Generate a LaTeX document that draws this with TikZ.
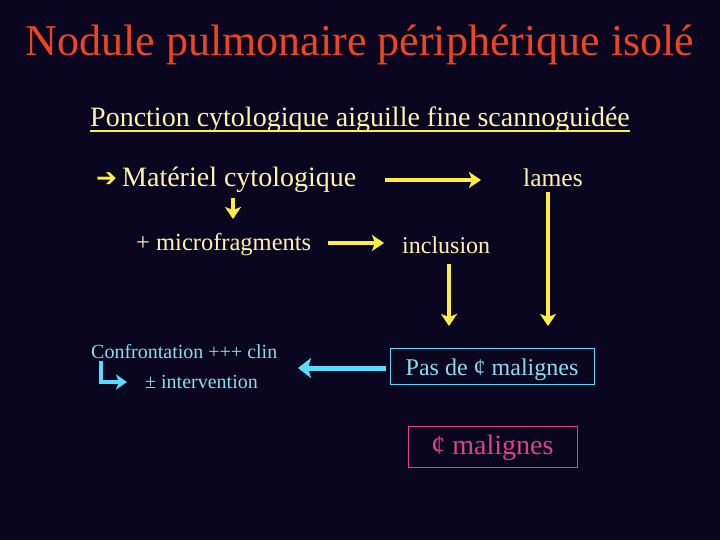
\documentclass[tikz,border=0pt]{standalone}
\usepackage{fontspec}
\setmainfont{Liberation Serif}
\newfontfamily\symfont{DejaVu Sans}
\usetikzlibrary{arrows.meta}
\definecolor{bg}{HTML}{0A0620}
\definecolor{titlec}{HTML}{F04420}
\definecolor{yeltxt}{HTML}{FFF2B0}
\definecolor{ylw}{HTML}{FFEE40}
\definecolor{cyantxt}{HTML}{88DDEE}
\definecolor{cyanar}{HTML}{55DDFF}
\definecolor{pinkc}{HTML}{E04090}
\tikzset{
  yarrow/.style={draw=ylw, line width=4pt, -{Stealth[length=12pt,width=16pt,inset=3pt]}},
  carrow/.style={draw=cyanar, line width=5pt, -{Stealth[length=13pt,width=20pt,inset=3pt]}},
  ytext/.style={text=yeltxt, inner sep=0pt, anchor=base west},
  ctext/.style={text=cyantxt, inner sep=0pt, anchor=base west},
}
\begin{document}
\begin{tikzpicture}[x=1pt,y=-1pt]
\fill[bg] (0,0) rectangle (720,540);
\useasboundingbox (0,0) rectangle (720,540);
\node[text=titlec, inner sep=0pt, anchor=base, font=\fontsize{44}{44}\selectfont] (title) at (360,56) {Nodule pulmonaire périphérique isolé};
\node[text=yeltxt, inner sep=0pt, anchor=base west, font=\fontsize{28}{28}\selectfont] (sub) at (90,127) {Ponction cytologique aiguille fine scannoguidée};
\draw[ylw, line width=1.5pt] (sub.base west) ++(0,4) -- ([yshift=-4pt]sub.base east);
\node[ytext, font=\fontsize{28}{28}\selectfont] (arr) at (96,187) {\symfont\bfseries\textcolor{ylw}{\fontsize{25}{25}\selectfont ➔}};
\node[ytext, font=\fontsize{28}{28}\selectfont] (mat) at (122,187) {Matériel cytologique};
\node[ytext, font=\fontsize{25.5}{26}\selectfont] (lames) at (523,187) {lames};
\node[ytext, font=\fontsize{24.5}{25}\selectfont] (micro) at (136,251) {+ microfragments};
\node[ytext, font=\fontsize{24}{24}\selectfont] (incl) at (402,253) {inclusion};
\node[ctext, font=\fontsize{20}{20}\selectfont] (conf) at (91,358) {Confrontation +++ clin};
\node[ctext, font=\fontsize{20}{20}\selectfont] (inter) at (145,388) {± intervention};
\node[draw=cyanar, line width=1pt, text=cyantxt, minimum width=204pt, minimum height=36pt, inner sep=0pt, text height=18pt, text depth=0pt, font=\fontsize{24}{24}\selectfont] (pas) at (492,366) {Pas de ¢ malignes};
\node[draw=pinkc, line width=1pt, text=pinkc, minimum width=169pt, minimum height=41pt, inner sep=0pt, text height=16pt, text depth=0pt, font=\fontsize{28}{28}\selectfont] (mal) at (492.5,446.5) {¢ malignes};
\coordinate (a1s) at (385,180); \coordinate (a1e) at (481,180);
\draw[yarrow] (a1s) -- (a1e);
\coordinate (a2s) at (233,198); \coordinate (a2e) at (233,219);
\draw[yarrow] (a2s) -- (a2e);
\coordinate (a3s) at (328,243); \coordinate (a3e) at (384,243);
\draw[yarrow] (a3s) -- (a3e);
\coordinate (a4s) at (449,264); \coordinate (a4e) at (449,326);
\draw[yarrow] (a4s) -- (a4e);
\coordinate (a5s) at (548,192); \coordinate (a5e) at (548,326);
\draw[yarrow] (a5s) -- (a5e);
\coordinate (a6s) at (386,368); \coordinate (a6e) at (298,368);
\draw[carrow] (a6s) -- (a6e);
\coordinate (b1) at (101,361); \coordinate (b2) at (101,382); \coordinate (b3) at (127,382);
\draw[carrow, line width=3.5pt, -{Stealth[length=11pt,width=15pt,inset=3pt]}] (b1) -- (b2) -- (b3);
\end{tikzpicture}
\end{document}
